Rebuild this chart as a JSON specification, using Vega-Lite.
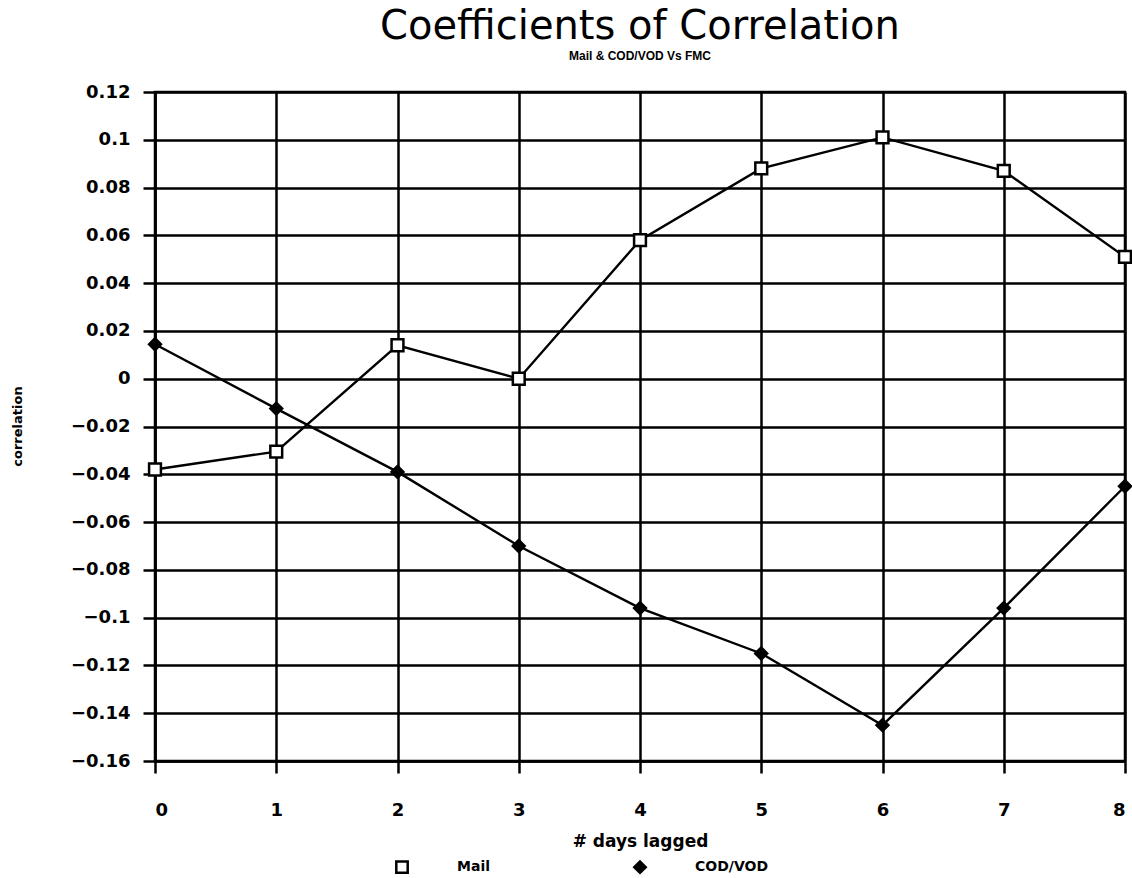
{
  "$schema": "https://vega.github.io/schema/vega-lite/v6.json",
  "autosize": "none",
  "width": 970,
  "height": 669,
  "padding": {"left": 155, "top": 92, "right": 7, "bottom": 117},
  "background": "white",
  "title": {
    "text": "Coefficients of Correlation",
    "subtitle": "Mail & COD/VOD Vs FMC",
    "anchor": "middle",
    "font": "DejaVu Sans",
    "fontSize": 40,
    "fontWeight": "normal",
    "color": "black",
    "subtitleFont": "Liberation Sans",
    "subtitleFontSize": 12,
    "subtitleFontWeight": "bold",
    "subtitleColor": "black",
    "subtitlePadding": 4,
    "offset": 21
  },
  "data": {
    "values": [
      {"lag": 0, "series": "Mail", "r": -0.038},
      {"lag": 1, "series": "Mail", "r": -0.0305},
      {"lag": 2, "series": "Mail", "r": 0.014},
      {"lag": 3, "series": "Mail", "r": 0.0},
      {"lag": 4, "series": "Mail", "r": 0.058},
      {"lag": 5, "series": "Mail", "r": 0.088},
      {"lag": 6, "series": "Mail", "r": 0.101},
      {"lag": 7, "series": "Mail", "r": 0.087},
      {"lag": 8, "series": "Mail", "r": 0.051},
      {"lag": 0, "series": "COD/VOD", "r": 0.0144},
      {"lag": 1, "series": "COD/VOD", "r": -0.0125},
      {"lag": 2, "series": "COD/VOD", "r": -0.039},
      {"lag": 3, "series": "COD/VOD", "r": -0.070},
      {"lag": 4, "series": "COD/VOD", "r": -0.096},
      {"lag": 5, "series": "COD/VOD", "r": -0.115},
      {"lag": 6, "series": "COD/VOD", "r": -0.145},
      {"lag": 7, "series": "COD/VOD", "r": -0.096},
      {"lag": 8, "series": "COD/VOD", "r": -0.045}
    ]
  },
  "encoding": {
    "x": {
      "field": "lag",
      "type": "quantitative",
      "scale": {"domain": [0, 8], "nice": false, "zero": false},
      "axis": {
        "values": [0, 1, 2, 3, 4, 5, 6, 7, 8],
        "format": "d",
        "title": "# days lagged",
        "titleFont": "DejaVu Sans",
        "titleFontSize": 17,
        "titleFontWeight": "bold",
        "titleColor": "black",
        "titleBaseline": "alphabetic",
        "titleY": 85,
        "labelFont": "DejaVu Sans",
        "labelFontSize": 18,
        "labelFontWeight": "bold",
        "labelColor": "black",
        "labelPadding": 28,
        "tickSize": 12,
        "tickWidth": 2.5,
        "tickColor": "black",
        "domainColor": "black",
        "domainWidth": 2.5,
        "grid": true,
        "gridColor": "black",
        "gridWidth": 2.5,
        "gridOpacity": 1
      }
    },
    "y": {
      "field": "r",
      "type": "quantitative",
      "scale": {"domain": [-0.16, 0.12], "nice": false, "zero": false},
      "axis": {
        "values": [-0.16, -0.14, -0.12, -0.1, -0.08, -0.06, -0.04, -0.02, 0, 0.02, 0.04, 0.06, 0.08, 0.1, 0.12],
        "format": ".2~f",
        "title": "correlation",
        "titleFont": "DejaVu Sans",
        "titleFontSize": 13,
        "titleFontWeight": "bold",
        "titleColor": "black",
        "titleAngle": -90,
        "titleBaseline": "middle",
        "titleAlign": "center",
        "titleX": -138,
        "titleY": 334,
        "labelFont": "DejaVu Sans",
        "labelFontSize": 18,
        "labelFontWeight": "bold",
        "labelColor": "black",
        "labelPadding": 13,
        "tickSize": 12,
        "tickWidth": 2.5,
        "tickColor": "black",
        "domainColor": "black",
        "domainWidth": 2.5,
        "grid": true,
        "gridColor": "black",
        "gridWidth": 2.5,
        "gridOpacity": 1
      }
    }
  },
  "layer": [
    {
      "mark": {"type": "line", "color": "black", "strokeWidth": 2.4},
      "encoding": {"detail": {"field": "series", "type": "nominal"}}
    },
    {
      "mark": {"type": "point", "strokeWidth": 2.5, "size": 140, "opacity": 1},
      "encoding": {
        "shape": {
          "field": "series",
          "type": "nominal",
          "scale": {"domain": ["Mail", "COD/VOD"], "range": ["square", "diamond"]},
          "legend": {
            "title": null,
            "orient": "none",
            "legendX": 240,
            "legendY": 768,
            "direction": "horizontal",
            "columns": 2,
            "columnPadding": 139,
            "labelOffset": 48,
            "labelFont": "DejaVu Sans",
            "labelFontSize": 14,
            "labelFontWeight": "bold",
            "labelColor": "black",
            "symbolSize": 130,
            "symbolStrokeWidth": 2.5
          }
        },
        "fill": {
          "field": "series",
          "type": "nominal",
          "scale": {"domain": ["Mail", "COD/VOD"], "range": ["white", "black"]},
          "legend": {
            "title": null,
            "orient": "none",
            "legendX": 240,
            "legendY": 768,
            "direction": "horizontal",
            "columns": 2,
            "columnPadding": 139,
            "labelOffset": 48,
            "labelFont": "DejaVu Sans",
            "labelFontSize": 14,
            "labelFontWeight": "bold",
            "labelColor": "black",
            "symbolSize": 130,
            "symbolStrokeWidth": 2.5
          }
        },
        "stroke": {
          "field": "series",
          "type": "nominal",
          "scale": {"domain": ["Mail", "COD/VOD"], "range": ["black", "black"]},
          "legend": {
            "title": null,
            "orient": "none",
            "legendX": 240,
            "legendY": 768,
            "direction": "horizontal",
            "columns": 2,
            "columnPadding": 139,
            "labelOffset": 48,
            "labelFont": "DejaVu Sans",
            "labelFontSize": 14,
            "labelFontWeight": "bold",
            "labelColor": "black",
            "symbolSize": 130,
            "symbolStrokeWidth": 2.5
          }
        }
      }
    }
  ],
  "config": {
    "view": {"stroke": "black", "strokeWidth": 2.5}
  }
}
